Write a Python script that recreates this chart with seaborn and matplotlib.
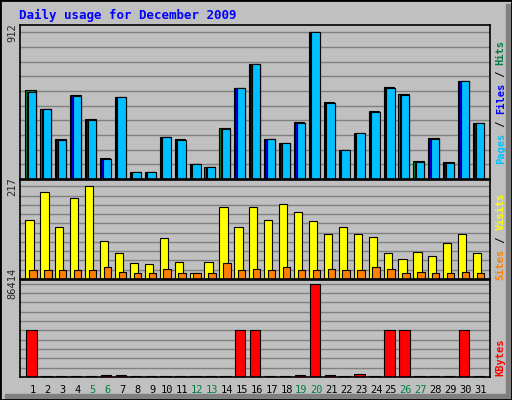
import numpy as np
import seaborn as sns
import matplotlib.pyplot as plt
from matplotlib.patches import Rectangle

sns.set_style("white")
plt.rcParams['font.family'] = ['DejaVu Sans Mono']

# Data
days = list(range(1, 32))
weekend = [5, 6, 12, 13, 19, 20, 26, 27]
hits = [553, 435, 250, 522, 373, 132, 510, 45, 45, 262, 250, 95, 76, 318, 565, 714,
        250, 225, 355, 912, 479, 182, 287, 423, 571, 528, 113, 256, 107, 609, 349]
files = [540, 435, 243, 516, 367, 126, 510, 45, 45, 262, 243, 95, 76, 312, 565, 714,
         250, 225, 349, 912, 472, 182, 287, 417, 565, 522, 107, 250, 101, 609, 349]
pages = files
visits = [139, 205, 121, 191, 217, 90, 62, 38, 36, 95, 41, 15, 41, 168, 121, 170,
          139, 177, 156, 137, 106, 121, 106, 99, 62, 48, 64, 55, 85, 106, 62]
sites = [22, 22, 22, 22, 22, 29, 17, 13, 13, 24, 15, 13, 13, 38, 22, 24,
         22, 27, 22, 22, 24, 22, 22, 27, 24, 15, 17, 15, 15, 17, 13]
kbytes = [43837, 700, 700, 700, 700, 1900, 1900, 700, 700, 700, 700, 700, 700, 700, 43837, 43837,
          700, 700, 1900, 86414, 1900, 700, 3150, 700, 43837, 43837, 700, 700, 700, 43837, 700]

BG = '#C0C0C0'
fig = plt.figure(figsize=(5.12, 4.0), dpi=100, facecolor=BG)
fig.patches.append(Rectangle((0, 0), 1, 1, transform=fig.transFigure, fill=False,
                             edgecolor='black', lw=2))
fig.patches.append(Rectangle((0.988, 0.0), 0.012, 0.99, transform=fig.transFigure,
                             color='#808080', zorder=-1))
fig.patches.append(Rectangle((0.01, 0.0), 0.99, 0.015, transform=fig.transFigure,
                             color='#808080', zorder=-1))
fig.text(0.037, 0.962, "Daily usage for December 2009", color='#0000FF',
         fontsize=9, fontweight='bold', va='center')

left, width = 0.04, 0.918
ax1 = fig.add_axes([left, 0.5525, width, 0.385])
ax2 = fig.add_axes([left, 0.3025, width, 0.2475])
ax3 = fig.add_axes([left, 0.0575, width, 0.2425])

x = np.array(days)


def style(ax, top, label, pad):
    ax.set_facecolor(BG)
    ax.set_xlim(0.17, 31.67)
    ax.set_ylim(0, top * pad)
    for v in np.linspace(0, top, 11)[1:]:
        ax.axhline(v, color='#808080', lw=1, zorder=0)
    ax.set_yticks([top])
    ax.set_yticklabels([label], rotation=90, va='center', fontsize=7.5)
    ax.tick_params(length=0, pad=2)
    ax.set_xticks([])
    for s in ax.spines.values():
        s.set_color('black')
        s.set_linewidth(1.2)


def bars(ax, vals, lo, hi, color):
    ax.bar(x + lo, vals, width=hi - lo, align='edge', color=color,
           edgecolor='black', linewidth=0.8, zorder=2)


style(ax1, 912, '912', 1.05)
bars(ax1, hits, -0.5, 0.2, '#008040')
bars(ax1, files, -0.42, 0.22, '#0000FF')
bars(ax1, pages, -0.33, 0.24, '#00C0FF')

style(ax2, 217, '217', 1.07)
bars(ax2, visits, -0.5, 0.05, '#FFFF00')
bars(ax2, sites, -0.25, 0.25, '#FF8000')

style(ax3, 86414, '86414', 1.04)
bars(ax3, kbytes, -0.45, 0.25, '#FF0000')
ax3.set_xticks(days)
ax3.set_xticklabels([str(d) for d in days], fontsize=7.5)
for t, d in zip(ax3.get_xticklabels(), days):
    t.set_color('#008040' if d in weekend else 'black')
ax3.tick_params(axis='x', pad=6)


# right side legends
def side(parts, y0):
    y = y0
    for txt, col in parts:
        fig.text(0.978, y, txt, color=col, rotation=90, fontsize=7.5,
                 fontweight='bold', ha='center', va='bottom')
        y += len(txt) * 0.0155


side([("Pages", '#00C0FF'), (" / ", 'black'), ("Files", '#0000FF'),
      (" / ", 'black'), ("Hits", '#008040')], 0.59)
side([("Sites", '#FF8000'), (" / ", 'black'), ("Visits", '#FFFF00')], 0.30)
side([("KBytes", '#FF0000')], 0.06)

fig.savefig("out.png", dpi=100, facecolor=BG)
